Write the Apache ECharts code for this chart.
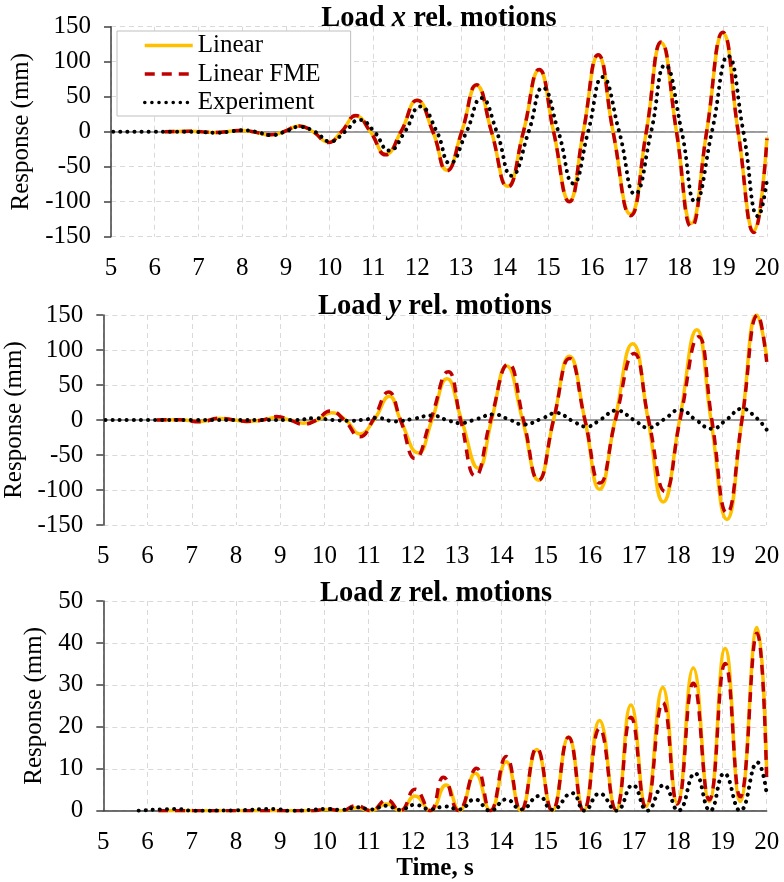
<!DOCTYPE html>
<html>
<head>
<meta charset="utf-8">
<script src="https://cdn.jsdelivr.net/npm/echarts@6/dist/echarts.min.js"></script>
<style>
  html, body { margin: 0; padding: 0; background: #fff; }
  #chart { width: 784px; height: 882px; }
</style>
</head>
<body>
<div id="chart"></div>
<script>
// Axis ticks
const timeTicks = [5, 6, 7, 8, 9, 10, 11, 12, 13, 14, 15, 16, 17, 18, 19, 20];
const ticksXY = [-150, -100, -50, 0, 50, 100, 150];
const ticksZ = [0, 10, 20, 30, 40, 50];

// Load x relative motions (time in s, response in mm)
const xLinT = [6.23, 6.8, 7.4, 7.95, 8.25, 8.62, 8.95, 9.3, 9.62, 9.97, 10.27, 10.6, 10.93, 11.28, 11.63, 12.0, 12.36, 12.68, 13.02, 13.36, 13.7, 14.07, 14.43, 14.79, 15.12, 15.48, 15.8, 16.14, 16.48, 16.88, 17.24, 17.58, 17.93, 18.27, 18.62, 18.99, 19.34, 19.7, 20.0];
const xLinV = [0, 0.5, -1, 1.8, 0, -4.5, 0, 8, 0, -15, 0, 22.5, 0, -32, 0, 45, 0, -55, 0, 66, 0, -78, 0, 88, 0, -99, 0, 109, 0, -118, 0, 127, 0, -131, 0, 141, 0, -142, -8];
const xFmeV = [0, 0.5, -1, 1.8, 0, -4.5, 0, 8, 0, -15.5, 0, 23, 0, -33, 0, 45, 0, -56, 0, 67, 0, -79, 0, 89, 0, -100, 0, 110, 0, -120, 0, 128, 0, -136, 0, 142, 0, -144, -10];
const xExpT = [5.05, 6.0, 6.6, 7.05, 7.42, 7.7, 7.97, 8.3, 8.66, 8.98, 9.3, 9.66, 10.01, 10.35, 10.68, 11.02, 11.36, 11.72, 12.07, 12.45, 12.75, 13.13, 13.47, 13.82, 14.16, 14.55, 14.87, 15.23, 15.57, 15.91, 16.24, 16.62, 16.98, 17.35, 17.67, 18.05, 18.36, 18.74, 19.11, 19.46, 19.8, 20.0];
const xExpV = [0, 0, 0, -0.5, -1.5, 0, 2, 0, -5, 0, 7, 0, -14, 0, 17, 0, -27, 0, 36, 0, -45, 0, 48, 0, -63, 0, 63, 0, -74, 0, 78, 0, -89, 0, 95, 0, -100, 0, 108, 0, -121, -69];

// Load y relative motions
const yLinT = [6.21, 6.7, 7.19, 7.64, 7.95, 8.24, 8.6, 8.92, 9.22, 9.52, 9.85, 10.15, 10.48, 10.8, 11.12, 11.47, 11.72, 12.12, 12.43, 12.77, 13.1, 13.48, 13.78, 14.12, 14.48, 14.84, 15.18, 15.54, 15.89, 16.22, 16.57, 16.97, 17.32, 17.66, 18.03, 18.42, 18.74, 19.1, 19.44, 19.78, 20.0];
const yLinV = [0, 0.5, -2, 2, 0, -2, 0, 3.5, 0, -4.5, 0, 10.5, 0, -20, 0, 34, 0, -47, 0, 59, 0, -69, 0, 77, 0, -86, 0, 91, 0, -99, 0, 109, 0, -117, 0, 129, 0, -142, 0, 150, 90];
const yFmeT = [6.21, 6.7, 7.19, 7.64, 7.95, 8.24, 8.6, 8.92, 9.22, 9.52, 9.82, 10.13, 10.45, 10.8, 11.1, 11.45, 11.72, 12.05, 12.4, 12.8, 13.08, 13.41, 13.76, 14.16, 14.5, 14.84, 15.18, 15.54, 15.89, 16.23, 16.58, 17.0, 17.33, 17.7, 18.04, 18.46, 18.76, 19.1, 19.44, 19.8, 20.0];
const yFmeV = [0, 0.5, -2.5, 2.5, 0, -2, 0, 5, 0, -6, 0, 13, 0, -24, 0, 40, 0, -55, 0, 69, 0, -80, 0, 80, 0, -86, 0, 88, 0, -90, 0, 95, 0, -102, 0, 119, 0, -133, 0, 150, 83];
const yExpT = [5.05, 7.0, 8.5, 9.35, 9.78, 10.2, 10.6, 10.9, 11.2, 11.58, 12.0, 12.43, 12.77, 13.07, 13.45, 13.82, 14.2, 14.5, 14.9, 15.25, 15.6, 15.93, 16.25, 16.6, 17.0, 17.32, 17.68, 18.04, 18.4, 18.76, 19.1, 19.44, 19.75, 20.0];
const yExpV = [0, 0, 0, 0, 2.5, 0, -1, 0.5, 3, -2, 1.5, 6.5, 0, -4.5, 1.5, 8, 0, -6.5, 1.5, 10, -1, -9.5, 1, 13.5, 0, -11, 1, 14.5, 0, -12.5, 1, 16, 4, -14];

// Load z relative motions
const zLinT = [6.24, 9.75, 10.05, 10.38, 10.72, 11.05, 11.41, 11.71, 12.05, 12.39, 12.75, 13.05, 13.41, 13.75, 14.11, 14.44, 14.8, 15.15, 15.52, 15.86, 16.22, 16.59, 16.93, 17.27, 17.65, 17.98, 18.34, 18.7, 19.06, 19.4, 19.78, 20.0];
const zLinV = [0, 0, 0.3, 0, 0.7, 0, 1.6, 0, 3.5, 0, 6.1, 0, 8.9, 0, 11.7, 0, 14.6, 0, 17.6, 0, 21.5, 0, 25.2, 1.0, 29.4, 1.8, 34.0, 2.2, 38.7, 2.2, 43.7, 9];
const zFmeT = [6.24, 9.75, 10.05, 10.38, 10.72, 11.05, 11.41, 11.71, 12.05, 12.39, 12.69, 13.03, 13.44, 13.75, 14.11, 14.44, 14.8, 15.15, 15.52, 15.86, 16.22, 16.59, 16.93, 17.27, 17.65, 17.98, 18.34, 18.7, 19.06, 19.4, 19.78, 20.0];
const zFmeV = [0, 0, 0.4, 0, 1.2, 0, 2.6, 0, 5.1, 0, 8.0, 0, 10.1, 0, 12.9, 0, 14.9, 0, 17.5, 0, 19.6, 0.3, 22.3, 0.8, 25.8, 1.6, 30.4, 2.6, 35.1, 3.3, 42.3, 7];
const zExpT = [5.8, 6.66, 7.0, 8.0, 8.9, 9.2, 9.7, 10.05, 10.4, 10.75, 11.05, 11.4, 11.7, 12.05, 12.4, 12.72, 13.05, 13.4, 13.75, 14.11, 14.45, 14.85, 15.15, 15.6, 15.88, 16.22, 16.6, 16.97, 17.3, 17.67, 18.0, 18.38, 18.72, 19.04, 19.4, 19.79, 20.0];
const zExpV = [0, 0.4, 0, 0.1, 0.4, 0, 0.2, 0.4, 0.2, 0.8, 0.3, 1.2, 0.2, 1.4, 0.3, 1.0, 0.3, 2.7, 0, 2.7, 0.3, 3.5, 0.2, 4.2, 0, 4.1, 0, 6.1, 0, 6.1, 0, 8.9, 0, 8.9, 0, 11.5, 4];

const FONT = 'Liberation Serif';
const C_LIN = '#FFC000';
const C_FME = '#C00000';
const C_EXP = '#000000';
const AXIS_DARK = '#404040';
const GRID_GRAY = '#d9d9d9';

const pts = (t, v) => t.map((x, i) => [x, v[i]]);

const panels = [
  { title: 'x', grid: { left: 111, top: 26.7, width: 656, height: 210 }, ticks: ticksXY, nameGap: 68,
    lin: pts(xLinT, xLinV), fme: pts(xLinT, xFmeV), exp: pts(xExpT, xExpV), titleLeft: 439, titleTop: 4 },
  { title: 'y', grid: { left: 103.3, top: 315, width: 663.4, height: 210 }, ticks: ticksXY, nameGap: 62,
    lin: pts(yLinT, yLinV), fme: pts(yFmeT, yFmeV), exp: pts(yExpT, yExpV), titleLeft: 435, titleTop: 292.5 },
  { title: 'z', grid: { left: 103.3, top: 601, width: 663.4, height: 209.7 }, ticks: ticksZ, nameGap: 48,
    lin: pts(zLinT, zLinV), fme: pts(zFmeT, zFmeV), exp: pts(zExpT, zExpV), titleLeft: 436, titleTop: 579 }
];

const dashGrid = { show: true, lineStyle: { color: GRID_GRAY, type: [5, 4], width: 1 } };
const labelText = { fontFamily: FONT, fontSize: 25, color: '#000' };

const grid = [], xAxis = [], yAxis = [], series = [], title = [];

panels.forEach((p, i) => {
  grid.push(Object.assign({ containLabel: false, outerBoundsMode: 'none' }, p.grid));
  title.push({
    text: '{b|Load }{i|' + p.title + '}{b| rel. motions}',
    left: p.titleLeft, top: p.titleTop, textAlign: 'center', padding: 0,
    textStyle: {
      rich: {
        b: { fontFamily: FONT, fontWeight: 'bold', fontSize: 28.5, color: '#000' },
        i: { fontFamily: FONT, fontWeight: 'bold', fontStyle: 'italic', fontSize: 28.5, color: '#000' }
      }
    }
  });
  xAxis.push({
    type: 'value', gridIndex: i, position: 'bottom',
    min: timeTicks[0], max: timeTicks[timeTicks.length - 1], interval: timeTicks[1] - timeTicks[0],
    axisLine: { show: i === 2, onZero: false, lineStyle: { color: AXIS_DARK, width: 1.5 } },
    axisTick: { show: false },
    axisLabel: Object.assign({ margin: 19 }, labelText),
    splitLine: dashGrid,
    name: i === 2 ? 'Time, s' : '',
    nameLocation: 'middle', nameGap: 38,
    nameTextStyle: { fontFamily: FONT, fontSize: 25, fontWeight: 'bold', color: '#000' }
  });
  yAxis.push({
    type: 'value', gridIndex: i,
    min: p.ticks[0], max: p.ticks[p.ticks.length - 1], interval: p.ticks[1] - p.ticks[0],
    axisLine: { show: true, lineStyle: { color: AXIS_DARK, width: 1.5 } },
    axisTick: { show: true, length: 7, lineStyle: { color: AXIS_DARK, width: 1.5 } },
    axisLabel: Object.assign({ margin: 20 }, labelText),
    splitLine: dashGrid,
    name: 'Response (mm)', nameLocation: 'middle', nameRotate: 90, nameGap: p.nameGap,
    nameTextStyle: labelText
  });
  const base = { type: 'line', xAxisIndex: i, yAxisIndex: i, symbol: 'none', showSymbol: false,
                 smooth: 0.5, clip: true, animation: false };
  series.push(Object.assign({}, base, { name: 'Linear', data: p.lin,
    lineStyle: { color: C_LIN, width: 3.5 }, itemStyle: { color: C_LIN } }));
  series.push(Object.assign({}, base, { name: 'Linear FME', data: p.fme,
    lineStyle: { color: C_FME, width: 3.5, type: [10, 7] }, itemStyle: { color: C_FME } }));
  series.push(Object.assign({}, base, { name: 'Experiment', data: p.exp,
    lineStyle: { color: C_EXP, width: 4, type: [0.1, 7], cap: 'round' }, itemStyle: { color: C_EXP } }));
});

// Zero reference lines for the two signed panels
[0, 1].forEach(i => {
  xAxis.push({
    type: 'value', gridIndex: i, position: 'top',
    min: timeTicks[0], max: timeTicks[timeTicks.length - 1],
    axisLine: { show: true, onZero: true, lineStyle: { color: '#808080', width: 1.5 } },
    axisTick: { show: false }, axisLabel: { show: false }, splitLine: { show: false }
  });
});

const chart = echarts.init(document.getElementById('chart'), null, { renderer: 'canvas' });
chart.setOption({
  animation: false,
  backgroundColor: '#fff',
  title, grid, xAxis, yAxis, series,
  legend: {
    orient: 'vertical', left: 117, top: 31,
    padding: [2, 30, 1, 26], itemGap: 3.5, itemWidth: 48, itemHeight: 14,
    backgroundColor: '#fff', borderColor: '#bfbfbf', borderWidth: 1,
    textStyle: { fontFamily: FONT, fontSize: 25, color: '#000' },
    itemStyle: { opacity: 0 },
    lineStyle: { width: 3.5 },
    data: ['Linear', 'Linear FME', 'Experiment']
  }
});
</script>
</body>
</html>
